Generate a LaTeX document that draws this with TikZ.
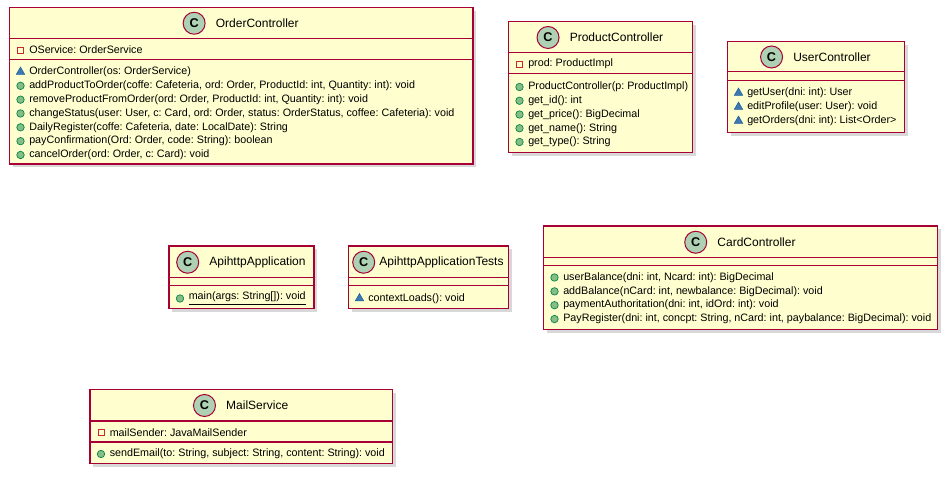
\documentclass[tikz,border=0pt]{standalone}
\usepackage{fontspec}
\setmainfont{Liberation Sans}
\usepackage{tikz}
\usetikzlibrary{positioning, fit, calc, shadows, shapes.geometric}
\usepackage{xcolor}
\definecolor{umlred}{HTML}{A80036}
\definecolor{umlfill}{HTML}{FEFECE}
\definecolor{cfill}{HTML}{ADD1B2}
\definecolor{pubfill}{HTML}{84BE84}
\definecolor{pubdraw}{HTML}{038048}
\definecolor{pkgfill}{HTML}{4177AF}
\definecolor{pkgdraw}{HTML}{1963A0}
\definecolor{privdraw}{HTML}{C82930}
\frenchspacing

\begin{document}
\begin{tikzpicture}[x=0.75pt,y=-0.75pt,
    classbox/.style={draw=umlred, fill=umlfill, line width=1.1pt, inner sep=0pt,
        drop shadow={shadow xshift=2.5pt, shadow yshift=-2.5pt, fill=black!30, opacity=0.5}},
    sepline/.style={draw=umlred, line width=1.1pt},
    classname/.style={font=\fontsize{9}{11}\selectfont, inner sep=0pt},
    cicon/.style={circle, draw=umlred, fill=cfill, line width=0.75pt, minimum size=16.5pt, inner sep=0pt,
        font=\bfseries\fontsize{9.5}{10}\selectfont},
    member/.style={anchor=west, inner sep=0pt, font=\fontsize{8.05}{10}\selectfont},
    pub/.style={circle, draw=pubdraw, fill=pubfill, line width=0.5pt, minimum size=5.6pt, inner sep=0pt},
    pkg/.style={regular polygon, regular polygon sides=3, draw=pkgdraw, fill=pkgfill, line width=0.4pt,
        minimum size=7.4pt, inner sep=0pt},
    priv/.style={rectangle, draw=privdraw, line width=0.6pt, minimum size=4.5pt, inner sep=0pt}]

\useasboundingbox (0,0) rectangle (950,477);

\node[classbox, fit={(9.5,7.5) (473,164)}] (order) {};
\draw[sepline] ($(order.north west)+(0,31.5)$) -- ($(order.north east)+(0,31.5)$);
\draw[sepline] ($(order.north west)+(0,53)$) -- ($(order.north east)+(0,53)$);
\node[classname] (order-name) at (257.25,23.25) {OrderController};
\node[cicon, left=7.5pt of order-name] (order-c) {C};
\node[priv] at (20.5,50) {};
\node[member] (order-a1) at (29,50) {OService: OrderService};
\node[pkg] at (20.5,72) {};
\node[member] (order-m0) at (29,72) {OrderController(os: OrderService)};
\foreach \t [count=\i] in {{addProductToOrder(coffe: Cafeteria, ord: Order, ProductId: int, Quantity: int): void},
    {removeProductFromOrder(ord: Order, ProductId: int, Quantity: int): void},
    {changeStatus(user: User, c: Card, ord: Order, status: OrderStatus, coffee: Cafeteria): void},
    {DailyRegister(coffe: Cafeteria, date: LocalDate): String},
    {payConfirmation(Ord: Order, code: String): boolean},
    {cancelOrder(ord: Order, c: Card): void}}
  {\node[pub] at (20.5,{72+13.83*\i}) {};
   \node[member] (order-m\i) at (29,{72+13.83*\i}) {\t};}

\node[classbox, fit={(508.5,21.5) (692.5,152.5)}] (product) {};
\draw[sepline] ($(product.north west)+(0,32)$) -- ($(product.north east)+(0,32)$);
\draw[sepline] ($(product.north west)+(0,52.5)$) -- ($(product.north east)+(0,52.5)$);
\node[classname] (product-name) at (616.5,37.5) {ProductController};
\node[cicon, left=7.5pt of product-name] (product-c) {C};
\node[priv] at (519.5,64) {};
\node[member] (product-a1) at (528,64) {prod: ProductImpl};
\foreach \t [count=\i from 0] in {{ProductController(p: ProductImpl)}, {get\_id(): int},
    {get\_price(): BigDecimal}, {get\_name(): String}, {get\_type(): String}}
  {\node[pub] at (519.5,{87+13.75*\i}) {};
   \node[member] (product-m\i) at (528,{87+13.75*\i}) {\t};}

\node[classbox, fit={(727.5,41.5) (904.5,132.5)}] (user) {};
\draw[sepline] ($(user.north west)+(0,31)$) -- ($(user.north east)+(0,31)$);
\draw[sepline] ($(user.north west)+(0,40)$) -- ($(user.north east)+(0,40)$);
\node[classname] (user-name) at (832,57) {UserController};
\node[cicon, left=7.5pt of user-name] (user-c) {C};
\foreach \t [count=\i from 0] in {{getUser(dni: int): User}, {editProfile(user: User): void},
    {getOrders(dni: int): List<Order>}}
  {\node[pkg] at (738.5,{93+14*\i}) {};
   \node[member] (user-m\i) at (747,{93+14*\i}) {\t};}

\node[classbox, fit={(169,246) (314,308.5)}] (app) {};
\draw[sepline] ($(app.north west)+(0,32.5)$) -- ($(app.north east)+(0,32.5)$);
\draw[sepline] ($(app.north west)+(0,40)$) -- ($(app.north east)+(0,40)$);
\node[classname] (app-name) at (257.5,262.25) {ApihttpApplication};
\node[cicon, left=7.5pt of app-name] (app-c) {C};
\node[pub] at (180,298.5) {};
\node[member] (app-m0) at (188.5,298.5) {\underline{main(args: String[]): void}};

\node[classbox, fit={(348.5,246) (508.5,308.5)}] (apptests) {};
\draw[sepline] ($(apptests.north west)+(0,32.5)$) -- ($(apptests.north east)+(0,32.5)$);
\draw[sepline] ($(apptests.north west)+(0,40)$) -- ($(apptests.north east)+(0,40)$);
\node[classname] (apptests-name) at (441.5,262.25) {ApihttpApplicationTests};
\node[cicon, left=3pt of apptests-name] (apptests-c) {C};
\node[pkg] at (359.5,298.5) {};
\node[member] (apptests-m0) at (368,298.5) {contextLoads(): void};

\node[classbox, fit={(543.5,226) (937.5,329.5)}] (card) {};
\draw[sepline] ($(card.north west)+(0,32.5)$) -- ($(card.north east)+(0,32.5)$);
\draw[sepline] ($(card.north west)+(0,40)$) -- ($(card.north east)+(0,40)$);
\node[classname] (card-name) at (756.5,242.25) {CardController};
\node[cicon, left=7.5pt of card-name] (card-c) {C};
\foreach \t [count=\i from 0] in {{userBalance(dni: int, Ncard: int): BigDecimal},
    {addBalance(nCard: int, newbalance: BigDecimal): void},
    {paymentAuthoritation(dni: int, idOrd: int): void},
    {PayRegister(dni: int, concpt: String, nCard: int, paybalance: BigDecimal): void}}
  {\node[pub] at (554.5,{277.5+13.85*\i}) {};
   \node[member] (card-m\i) at (563,{277.5+13.85*\i}) {\t};}

\node[classbox, fit={(90,389.5) (392.5,463.5)}] (mail) {};
\draw[sepline] ($(mail.north west)+(0,32)$) -- ($(mail.north east)+(0,32)$);
\draw[sepline] ($(mail.north west)+(0,53)$) -- ($(mail.north east)+(0,53)$);
\node[classname] (mail-name) at (257.25,405.5) {MailService};
\node[cicon, left=7.5pt of mail-name] (mail-c) {C};
\node[priv] at (101,432.3) {};
\node[member] (mail-a1) at (109.5,432.3) {mailSender: JavaMailSender};
\node[pub] at (101,454) {};
\node[member] (mail-m0) at (109.5,454) {sendEmail(to: String, subject: String, content: String): void};
\end{tikzpicture}
\end{document}
